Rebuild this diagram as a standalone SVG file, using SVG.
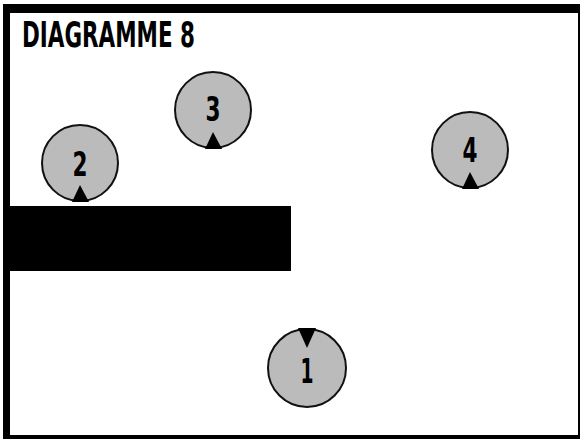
<svg xmlns="http://www.w3.org/2000/svg" width="582" height="439" viewBox="0 0 582 439">
<style>
.node circle{fill:#bbbbbb;stroke:#111;stroke-width:2}
.node text{font-family:"DejaVu Sans","Liberation Sans",sans-serif;font-weight:bold;font-stretch:condensed;font-size:33px;fill:#000;text-anchor:middle}
.tri{fill:#000}
.title{font-family:"DejaVu Sans","Liberation Sans",sans-serif;font-weight:bold;font-stretch:condensed;font-size:35px;fill:#000}
</style>
<rect x="0" y="0" width="582" height="439" fill="#fff"/>
<g id="frame" fill="#000">
<rect x="3" y="4" width="577" height="9"/>
<rect x="3" y="4" width="7" height="435"/>
<rect x="578" y="4" width="2" height="435"/>
<rect x="3" y="435" width="577" height="4"/>
</g>
<text class="title" x="22" y="47" textLength="173" lengthAdjust="spacingAndGlyphs">DIAGRAMME 8</text>
<rect id="wall" x="10" y="206" width="281" height="65" fill="#000"/>
<g id="node2" class="node">
<circle cx="80" cy="163" r="38"/>
<text x="80" y="176" textLength="15" lengthAdjust="spacingAndGlyphs">2</text>
<polygon class="tri" points="80,185 72,202 89,202"/>
</g>
<g id="node3" class="node">
<circle cx="213" cy="110" r="38"/>
<text x="213" y="121" textLength="15" lengthAdjust="spacingAndGlyphs">3</text>
<polygon class="tri" points="213,132 205,149 222,149"/>
</g>
<g id="node4" class="node">
<circle cx="470" cy="150" r="38"/>
<text x="470" y="162" textLength="15" lengthAdjust="spacingAndGlyphs">4</text>
<polygon class="tri" points="470,172 462,189 479,189"/>
</g>
<g id="node1" class="node">
<circle cx="307" cy="368" r="39"/>
<text x="307" y="383" textLength="13" lengthAdjust="spacingAndGlyphs">1</text>
<polygon class="tri" points="298,328 316,328 307,348"/>
</g>
<g id="connectors"></g>
</svg>
